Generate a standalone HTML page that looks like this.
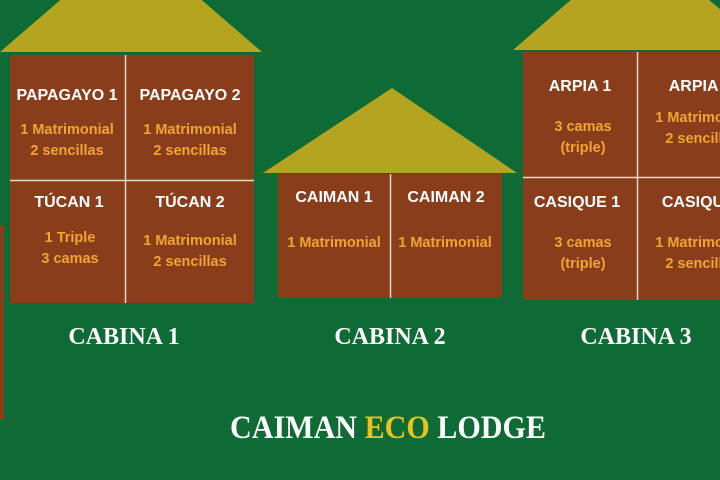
<!DOCTYPE html>
<html><head><meta charset="utf-8"><style>
html,body{margin:0;padding:0;background:#0f6b35;}
svg{display:block;}
.n{font-family:"Liberation Sans",sans-serif;font-weight:bold;font-size:16px;fill:#fff;text-anchor:middle;}
.d{font-family:"Liberation Sans",sans-serif;font-weight:bold;font-size:14.5px;fill:#f0a531;text-anchor:middle;}
.c{font-family:"Liberation Serif",serif;font-weight:bold;font-size:24px;fill:#fff;text-anchor:middle;}
</style></head><body>
<svg width="720" height="480" xmlns="http://www.w3.org/2000/svg">
<rect width="720" height="480" fill="#0f6b35"/>
<rect x="0" y="225" width="4" height="195" fill="#8a3d1a"/>
<!-- Cabin 1 -->
<polygon points="0,52 131,-61 262,52" fill="#b4a420"/>
<rect x="10" y="55" width="244" height="248" fill="#8a3d1a"/>
<line x1="125.5" y1="55" x2="125.5" y2="303" stroke="#e6d9c8" stroke-width="1.5"/>
<line x1="10" y1="180.5" x2="254" y2="180.5" stroke="#e6d9c8" stroke-width="1.5"/>
<text class="n" x="67" y="100">PAPAGAYO 1</text>
<text class="n" x="190" y="100">PAPAGAYO 2</text>
<text class="d" x="67" y="134">1 Matrimonial</text>
<text class="d" x="67" y="155">2 sencillas</text>
<text class="d" x="190" y="134">1 Matrimonial</text>
<text class="d" x="190" y="155">2 sencillas</text>
<text class="n" x="69" y="207">TÚCAN 1</text>
<text class="n" x="190" y="207">TÚCAN 2</text>
<text class="d" x="70" y="242">1 Triple</text>
<text class="d" x="70" y="263">3 camas</text>
<text class="d" x="190" y="245">1 Matrimonial</text>
<text class="d" x="190" y="266">2 sencillas</text>
<text class="c" x="124" y="344">CABINA 1</text>
<!-- Cabin 2 -->
<polygon points="263,173 392,88 517,173" fill="#b4a420"/>
<rect x="278" y="174" width="224" height="124" fill="#8a3d1a"/>
<line x1="390.5" y1="174" x2="390.5" y2="298" stroke="#e6d9c8" stroke-width="1.5"/>
<text class="n" x="334" y="202">CAIMAN 1</text>
<text class="n" x="446" y="202">CAIMAN 2</text>
<text class="d" x="334" y="247">1 Matrimonial</text>
<text class="d" x="445" y="247">1 Matrimonial</text>
<text class="c" x="390" y="344">CABINA 2</text>
<!-- Cabin 3 -->
<polygon points="513,50 640,-60 767,50" fill="#b4a420"/>
<rect x="523" y="52" width="200" height="248" fill="#8a3d1a"/>
<line x1="637.5" y1="52" x2="637.5" y2="300" stroke="#e6d9c8" stroke-width="1.5"/>
<line x1="523" y1="177.5" x2="720" y2="177.5" stroke="#e6d9c8" stroke-width="1.5"/>
<text class="n" x="580" y="91">ARPIA 1</text>
<text class="n" x="700" y="91">ARPIA 2</text>
<text class="d" x="583" y="131">3 camas</text>
<text class="d" x="583" y="152">(triple)</text>
<text class="d" x="702" y="122">1 Matrimonial</text>
<text class="d" x="702" y="143">2 sencillas</text>
<text class="n" x="577" y="207">CASIQUE 1</text>
<text class="n" x="705" y="207">CASIQUE 2</text>
<text class="d" x="583" y="247">3 camas</text>
<text class="d" x="583" y="268">(triple)</text>
<text class="d" x="702" y="247">1 Matrimonial</text>
<text class="d" x="702" y="268">2 sencillas</text>
<text class="c" x="636" y="344">CABINA 3</text>
<!-- Title -->
<text x="230" y="438" textLength="316" lengthAdjust="spacingAndGlyphs" style="font-family:'Liberation Serif',serif;font-weight:bold;font-size:33px;fill:#fff;">CAIMAN <tspan fill="#e8c21e">ECO</tspan> LODGE</text>
</svg>
</body></html>
